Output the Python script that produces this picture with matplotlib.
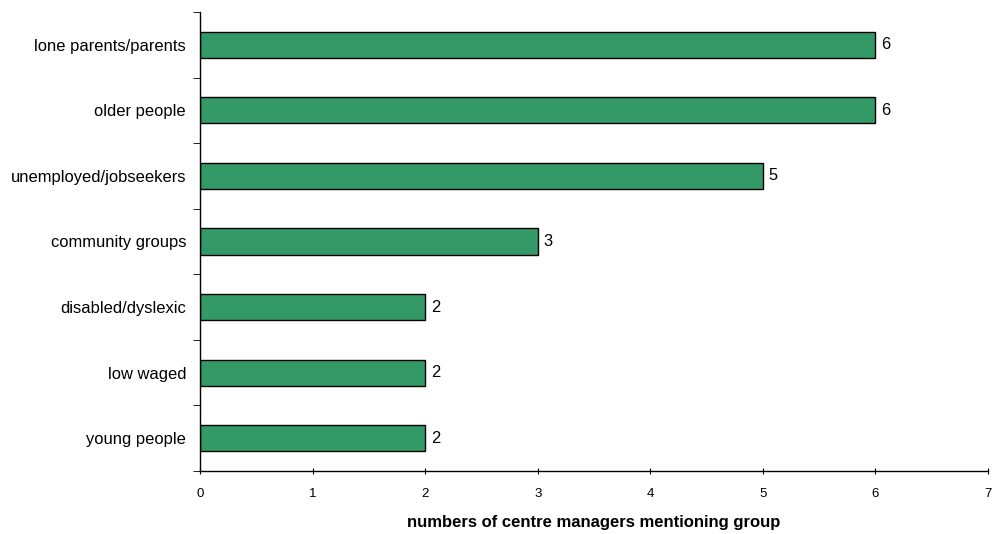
import matplotlib
matplotlib.use("Agg")
import matplotlib.pyplot as plt

categories = ["lone parents/parents", "older people", "unemployed/jobseekers",
              "community groups", "disabled/dyslexic", "low waged", "young people"]
values = [6, 6, 5, 3, 2, 2, 2]
xticks = [0, 1, 2, 3, 4, 5, 6, 7]

plt.rcParams['font.family'] = ['Liberation Sans', 'DejaVu Sans']

fig = plt.figure(figsize=(9.96, 5.34), dpi=100)
ax = fig.add_axes([200/996, 1-471/534, 788/996, 459/534])

n = len(categories)
ypos = list(range(n))[::-1]
ax.barh(ypos, values, height=0.4, color="#339966", edgecolor="black", linewidth=1.0)
for y, v in zip(ypos, values):
    ax.text(v + 0.05, y, str(v), va="center", ha="left", fontsize=11.9)

ax.set_ylim(-0.5, n - 0.5)
ax.set_xlim(0, 7)
ax.set_yticks(ypos)
ax.set_yticklabels(categories, fontsize=11.9)
ax.set_yticks([i - 0.5 for i in range(n + 1)], minor=True)
ax.tick_params(axis="y", which="major", length=0, pad=10)
ax.tick_params(axis="y", which="minor", length=5, direction="out")
ax.set_xticks(xticks)
ax.set_xticklabels([str(t) for t in xticks], fontsize=9.5)
ax.tick_params(axis="x", length=4, direction="inout", pad=10)
ax.set_xlabel("numbers of centre managers mentioning group", fontsize=12, fontweight="bold", labelpad=11)

for s in ["top", "right"]:
    ax.spines[s].set_visible(False)
for s in ["left", "bottom"]:
    ax.spines[s].set_linewidth(1.0)

fig.savefig("out.png", dpi=100)
